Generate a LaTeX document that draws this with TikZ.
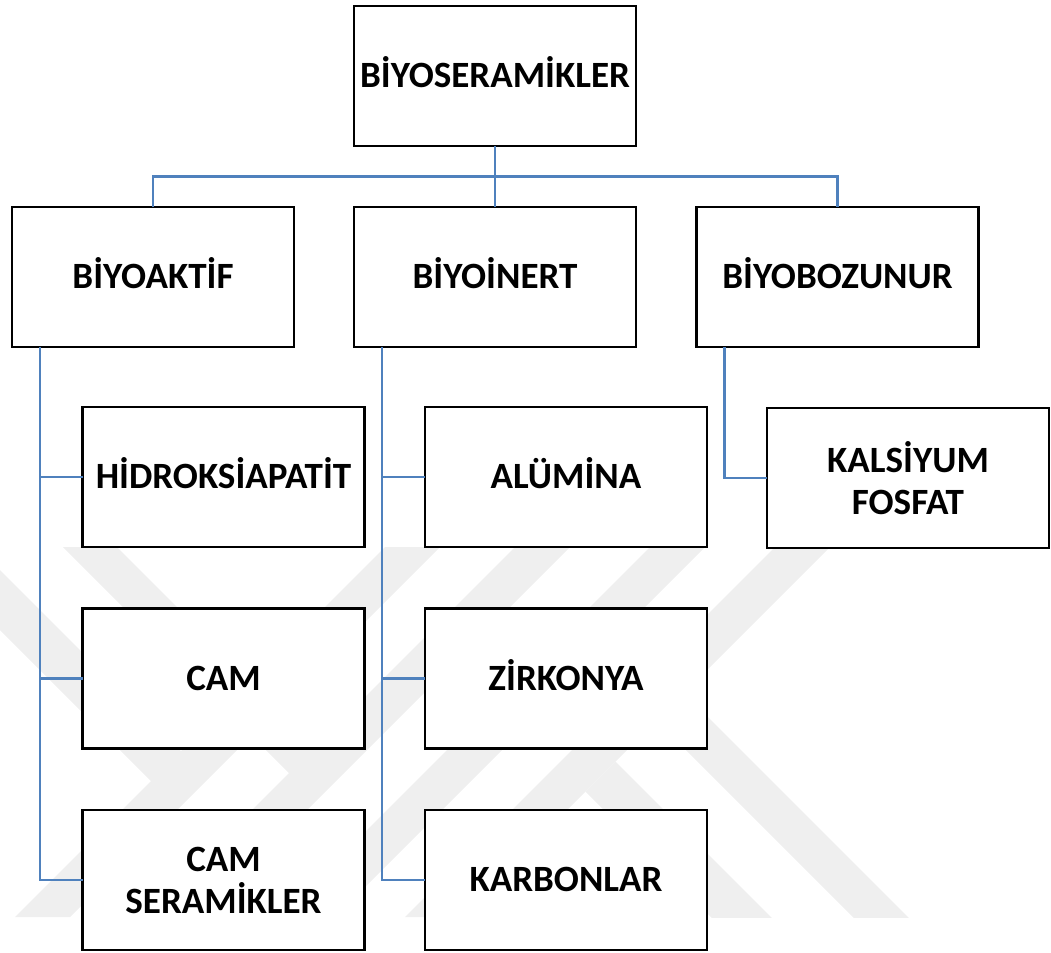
\documentclass[tikz,border=0pt]{standalone}
\usepackage{fontspec}
\setmainfont{Carlito}
\usetikzlibrary{calc}
\definecolor{connblue}{HTML}{4F81BD}
\definecolor{wmgrey}{HTML}{EFEFEF}
\begin{document}
\begin{tikzpicture}[x=0.75pt,y=-0.75pt,
  box/.style={draw=black, line width=2.1pt, fill=white, rectangle,
    minimum width=282*0.75pt, minimum height=140*0.75pt, inner sep=0pt, outer sep=0pt,
    font=\fontsize{27.8pt}{31.5pt}\selectfont\bfseries, align=center},
  oneline/.style={text height=17.9pt, text depth=0pt},
  link/.style={draw=connblue, line width=1.8pt},
  wm/.style={fill=wmgrey, draw=none}]
\useasboundingbox (0,0) rectangle (1051,953);
% watermark
\begin{scope}
  \clip (0,547) rectangle (1051,917);
  \foreach \L in {385,515,650,775} {
    \fill[wm] (\L,547) -- (\L+55,547) -- (\L+55-370,917) -- (\L-370,917) -- cycle;
  }
  \fill[wm] (-70,500) -- (208.5,778.5) -- (151,781) -- (-70,560) -- cycle;
  \fill[wm] (56,540) -- (110,540) -- (343.5,773.5) -- (289,773) -- cycle;
  \fill[wm] (585.5,791.5) -- (615.5,761.5) -- (800,946) -- (740,946) -- cycle;
  \fill[wm] (594,658) -- (621.5,630.5) -- (940,949) -- (885,949) -- cycle;
\end{scope}
% nodes
\node[box,oneline] (root) at (495,76) {BİYOSERAMİKLER};
\node[box,oneline] (bioaktif) at (153,277) {BİYOAKTİF};
\node[box,oneline] (bioinert) at (495,277) {BİYOİNERT};
\node[box,oneline] (biobozunur) at (837.5,277) {BİYOBOZUNUR};
\node[box,oneline] (hidro) at (223.5,477) {HİDROKSİAPATİT};
\node[box,oneline] (alumina) at (566,477) {ALÜMİNA};
\node[box] (kalsiyum) at (908,478) {KALSİYUM\\FOSFAT};
\node[box,oneline] (cam) at (223.5,678.5) {CAM};
\node[box,oneline] (zirkonya) at (566,678.5) {ZİRKONYA};
\node[box] (camser) at (223.5,880) {CAM\\SERAMİKLER};
\node[box,oneline] (karbon) at (566,880) {KARBONLAR};
% connectors
\draw[link] (root.south) -- (bioinert.north);
\draw[link] (bioaktif.north) |- ($(root.south)!0.5!(bioinert.north)$) -| (biobozunur.north);
\draw[link] (bioaktif.south west) ++(28,0) |- (hidro.west);
\draw[link] (bioaktif.south west) ++(28,0) |- (cam.west);
\draw[link] (bioaktif.south west) ++(28,0) |- (camser.west);
\draw[link] (bioinert.south west) ++(28,0) |- (alumina.west);
\draw[link] (bioinert.south west) ++(28,0) |- (zirkonya.west);
\draw[link] (bioinert.south west) ++(28,0) |- (karbon.west);
\draw[link] (biobozunur.south west) ++(28,0) |- (kalsiyum.west);
\end{tikzpicture}
\end{document}
